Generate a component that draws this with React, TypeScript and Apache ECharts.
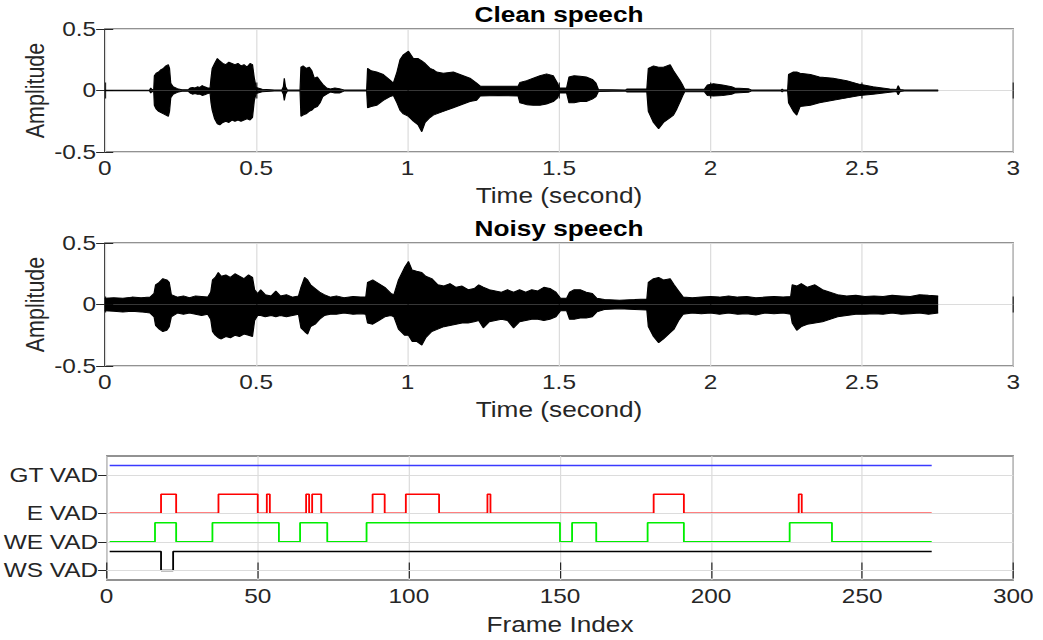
import React, { useEffect, useRef } from "react";
import * as echarts from "echarts";

// ---------------- DATA ----------------
// Clean speech envelope (time in s, upper / lower amplitude)
const cleanTime = [
  0, 0.148, 0.152, 0.156, 0.162, 0.164, 0.17, 0.178, 0.186, 0.194, 0.202, 0.21, 0.214, 0.218, 0.226, 0.24, 0.255, 0.275,
  0.282, 0.29, 0.298, 0.306, 0.314, 0.322, 0.33, 0.34, 0.348, 0.351, 0.355, 0.363, 0.372, 0.38, 0.39, 0.4, 0.41, 0.42,
  0.43, 0.44, 0.45, 0.46, 0.47, 0.48, 0.488, 0.494, 0.5, 0.52, 0.56, 0.585, 0.59, 0.593, 0.597, 0.603, 0.645, 0.648,
  0.655, 0.665, 0.675, 0.684, 0.692, 0.702, 0.711, 0.72, 0.733, 0.745, 0.76, 0.775, 0.79, 0.865, 0.868, 0.88, 0.898,
  0.92, 0.942, 0.953, 0.965, 0.975, 0.986, 1.003, 1.019, 1.035, 1.047, 1.058, 1.074, 1.085, 1.096, 1.118, 1.151, 1.173,
  1.195, 1.206, 1.228, 1.24, 1.3, 1.365, 1.371, 1.393, 1.415, 1.437, 1.459, 1.481, 1.495, 1.502, 1.525, 1.533, 1.55,
  1.57, 1.59, 1.61, 1.622, 1.63, 1.72, 1.725, 1.79, 1.795, 1.812, 1.829, 1.845, 1.867, 1.878, 1.889, 1.9, 1.909, 1.915,
  1.98, 1.99, 2.01, 2.04, 2.07, 2.08, 2.125, 2.135, 2.233, 2.237, 2.241, 2.255, 2.258, 2.274, 2.285, 2.296, 2.33, 2.36,
  2.405, 2.45, 2.493, 2.537, 2.592, 2.615, 2.62, 2.626, 2.64, 2.752,
];
const cleanUpper = [
  0.003, 0.003, 0.02, 0.008, 0.01, 0.12, 0.14, 0.15, 0.17, 0.18, 0.2, 0.21, 0.18, 0.06, 0.03, 0.015, 0.006, 0.006,
  0.02, 0.025, 0.02, 0.03, 0.025, 0.04, 0.03, 0.02, 0.02, 0.1, 0.18, 0.22, 0.26, 0.24, 0.22, 0.21, 0.23, 0.22,
  0.21, 0.22, 0.2, 0.21, 0.19, 0.22, 0.21, 0.1, 0.025, 0.01, 0.005, 0.005, 0.03, 0.1, 0.03, 0.005, 0.005, 0.19,
  0.2, 0.18, 0.19, 0.16, 0.1, 0.11, 0.08, 0.05, 0.02, 0.012, 0.02, 0.015, 0.005, 0.005, 0.18, 0.16, 0.15,
  0.13, 0.085, 0.06, 0.15, 0.25, 0.29, 0.32, 0.26, 0.26, 0.24, 0.22, 0.18, 0.17, 0.15, 0.14, 0.15, 0.13,
  0.11, 0.1, 0.06, 0.035, 0.035, 0.035, 0.066, 0.08, 0.1, 0.12, 0.135, 0.12, 0.06, 0.02, 0.02, 0.11, 0.12,
  0.115, 0.11, 0.09, 0.06, 0.008, 0.005, 0.012, 0.012, 0.18, 0.2, 0.19, 0.19, 0.21, 0.16, 0.12, 0.08, 0.04, 0.01,
  0.01, 0.045, 0.055, 0.045, 0.03, 0.02, 0.015, 0.004, 0.004, 0.012, 0.004, 0.004, 0.13, 0.15, 0.15, 0.14, 0.13, 0.11,
  0.1, 0.08, 0.05, 0.03, 0.012, 0.008, 0.04, 0.008, 0.004, 0.004,
];
const cleanLower = [
  -0.003, -0.003, -0.02, -0.008, -0.01, -0.12, -0.15, -0.17, -0.18, -0.19, -0.2, -0.21, -0.17, -0.06, -0.03, -0.015, -0.006, -0.006,
  -0.02, -0.03, -0.025, -0.03, -0.03, -0.04, -0.035, -0.025, -0.02, -0.1, -0.16, -0.23, -0.27, -0.28, -0.26, -0.25, -0.26, -0.24,
  -0.25, -0.24, -0.25, -0.24, -0.23, -0.24, -0.22, -0.08, -0.025, -0.01, -0.005, -0.005, -0.03, -0.08, -0.03, -0.005, -0.005, -0.21,
  -0.2, -0.19, -0.17, -0.16, -0.14, -0.13, -0.1, -0.05, -0.03, -0.012, -0.02, -0.02, -0.005, -0.005, -0.14, -0.13, -0.12,
  -0.08, -0.05, -0.04, -0.1, -0.16, -0.19, -0.21, -0.25, -0.28, -0.335, -0.26, -0.22, -0.2, -0.19, -0.17, -0.14, -0.12,
  -0.1, -0.09, -0.08, -0.045, -0.04, -0.045, -0.1, -0.115, -0.12, -0.12, -0.11, -0.09, -0.06, -0.02, -0.02, -0.1, -0.1,
  -0.09, -0.09, -0.07, -0.05, -0.008, -0.005, -0.012, -0.012, -0.17, -0.26, -0.31, -0.26, -0.22, -0.2, -0.15, -0.09, -0.04, -0.01,
  -0.01, -0.04, -0.045, -0.04, -0.03, -0.02, -0.015, -0.004, -0.004, -0.012, -0.004, -0.004, -0.1, -0.17, -0.2, -0.13, -0.12, -0.1,
  -0.08, -0.06, -0.04, -0.03, -0.015, -0.008, -0.035, -0.008, -0.004, -0.004,
];

// Noisy speech envelope
const noisyTime = [
  0, 0.03, 0.06, 0.09, 0.12, 0.15, 0.163, 0.168, 0.18, 0.192, 0.205, 0.213, 0.22, 0.24, 0.26, 0.28, 0.3, 0.32, 0.34,
  0.35, 0.356, 0.365, 0.375, 0.385, 0.4, 0.415, 0.43, 0.445, 0.46, 0.475, 0.488, 0.495, 0.505, 0.515, 0.53, 0.55,
  0.565, 0.58, 0.6, 0.62, 0.64, 0.648, 0.66, 0.67, 0.68, 0.695, 0.71, 0.725, 0.745, 0.765, 0.79, 0.82, 0.845, 0.862,
  0.868, 0.885, 0.905, 0.925, 0.945, 0.955, 0.97, 0.99, 1.003, 1.015, 1.03, 1.047, 1.06, 1.08, 1.1, 1.12, 1.14, 1.16,
  1.18, 1.2, 1.22, 1.235, 1.25, 1.27, 1.29, 1.31, 1.33, 1.35, 1.37, 1.39, 1.41, 1.43, 1.45, 1.47, 1.49, 1.505, 1.525,
  1.535, 1.55, 1.57, 1.59, 1.61, 1.625, 1.65, 1.7, 1.75, 1.79, 1.795, 1.812, 1.829, 1.845, 1.867, 1.88, 1.895, 1.91,
  1.94, 1.97, 2.0, 2.03, 2.06, 2.09, 2.12, 2.15, 2.18, 2.21, 2.24, 2.265, 2.27, 2.285, 2.3, 2.32, 2.345, 2.37, 2.395,
  2.42, 2.45, 2.48, 2.51, 2.54, 2.57, 2.6, 2.63, 2.66, 2.69, 2.72, 2.752,
];
const noisyUpper = [
  0.05, 0.055, 0.05, 0.06, 0.055, 0.06, 0.09, 0.16, 0.18, 0.21, 0.2, 0.18, 0.08, 0.06, 0.07, 0.055, 0.07, 0.065, 0.06,
  0.1, 0.2, 0.22, 0.26, 0.23, 0.24, 0.22, 0.25, 0.23, 0.21, 0.24, 0.22, 0.12, 0.09, 0.12, 0.08, 0.07,
  0.11, 0.07, 0.08, 0.06, 0.07, 0.14, 0.22, 0.2, 0.16, 0.13, 0.1, 0.08, 0.06, 0.07, 0.055, 0.065, 0.06, 0.06,
  0.18, 0.2, 0.17, 0.14, 0.09, 0.08, 0.2, 0.3, 0.35, 0.28, 0.27, 0.26, 0.23, 0.21, 0.16, 0.15, 0.17, 0.14,
  0.15, 0.12, 0.13, 0.16, 0.14, 0.12, 0.11, 0.1, 0.12, 0.1, 0.12, 0.1, 0.12, 0.11, 0.14, 0.13, 0.1, 0.05, 0.05,
  0.1, 0.12, 0.12, 0.1, 0.09, 0.05, 0.04, 0.035, 0.04, 0.045, 0.18, 0.21, 0.22, 0.2, 0.21, 0.16, 0.11, 0.06,
  0.055, 0.06, 0.065, 0.06, 0.07, 0.06, 0.065, 0.055, 0.06, 0.065, 0.06, 0.065, 0.16, 0.15, 0.17, 0.14, 0.16, 0.12, 0.1,
  0.08, 0.07, 0.075, 0.065, 0.07, 0.065, 0.075, 0.07, 0.065, 0.08, 0.075, 0.07,
];
const noisyLower = [
  -0.05, -0.055, -0.06, -0.055, -0.06, -0.07, -0.1, -0.17, -0.2, -0.22, -0.21, -0.18, -0.1, -0.07, -0.08, -0.07, -0.08, -0.09, -0.08,
  -0.12, -0.22, -0.25, -0.27, -0.28, -0.26, -0.27, -0.25, -0.26, -0.24, -0.25, -0.26, -0.13, -0.09, -0.09, -0.1, -0.09,
  -0.1, -0.09, -0.1, -0.09, -0.08, -0.19, -0.22, -0.24, -0.18, -0.16, -0.12, -0.09, -0.08, -0.08, -0.07, -0.08, -0.075, -0.08,
  -0.15, -0.16, -0.13, -0.1, -0.09, -0.1, -0.2, -0.25, -0.25, -0.3, -0.3, -0.33, -0.27, -0.22, -0.2, -0.18, -0.17, -0.16,
  -0.15, -0.15, -0.14, -0.13, -0.19, -0.14, -0.13, -0.12, -0.13, -0.19, -0.14, -0.13, -0.12, -0.12, -0.13, -0.12, -0.1, -0.05, -0.05,
  -0.12, -0.12, -0.11, -0.11, -0.1, -0.06, -0.04, -0.035, -0.04, -0.045, -0.18, -0.26, -0.31, -0.28, -0.23, -0.2, -0.13, -0.08,
  -0.07, -0.075, -0.07, -0.08, -0.07, -0.08, -0.075, -0.085, -0.07, -0.075, -0.07, -0.08, -0.15, -0.21, -0.18, -0.16, -0.15, -0.14, -0.12,
  -0.1, -0.09, -0.08, -0.08, -0.075, -0.08, -0.07, -0.08, -0.075, -0.07, -0.08, -0.07,
];

// VAD panel (frame indices)
const frameFirst = 1;
const frameLast = 273;
const gtVadSegments = [[1, 273]];
const eVadSegments = [[18, 23], [37, 50], [53, 54], [66, 67], [68, 71], [88, 92], [99, 110], [126, 127], [181, 191], [229, 230]];
const weVadSegments = [[16, 23], [35, 57], [64, 73], [86, 150], [154, 162], [179, 191], [226, 240]];
const wsVadZeroSegments = [[18, 22]];
const vadTickValues = [0, 1.5, 3, 5];
const vadTickLabels = ["WS VAD", "WE VAD", "E VAD", "GT VAD"];
const gtOffset = 4.5;
const eOffset = 3;
const weOffset = 1.5;
const wsOffset = 0;

// ---------------- LAYOUT ----------------
const SX = 1.22; // horizontal stretch of the whole figure
const W = 1043 / SX;
const H = 640;
const plotLeft = 104.7 / SX;
const plotWidth = 908.6 / SX;
const FONT = "'Liberation Sans', Arial, Helvetica, sans-serif";
const AX = "#262626";
const GRIDC = "#dcdcdc";

function stepPoints(segments: number[][], offset: number, base: number, active: number) {
  const pts: number[][] = [];
  const segs = segments.slice().sort((a, b) => a[0] - b[0]);
  let startVal = base;
  if (segs.length && segs[0][0] <= frameFirst) startVal = active;
  pts.push([frameFirst, offset + startVal]);
  for (const [a, b] of segs) {
    if (a > frameFirst) {
      pts.push([a, offset + base], [a, offset + active]);
    }
    if (b < frameLast) {
      pts.push([b, offset + active], [b, offset + base]);
    } else {
      pts.push([frameLast, offset + active]);
    }
  }
  if (pts[pts.length - 1][0] < frameLast) pts.push([frameLast, offset + base]);
  return pts;
}

function buildOption() {
  const grids = [
    { left: plotLeft, width: plotWidth, top: 29, height: 123 },
    { left: plotLeft, width: plotWidth, top: 243, height: 123 },
    { left: plotLeft, width: plotWidth, top: 456, height: 124 },
  ].map((g) => ({ ...g, show: true, borderColor: AX, borderWidth: 1, backgroundColor: "#fff" }));

  const labelStyle = { color: AX, fontFamily: FONT, fontSize: 20 };
  const nameStyle = { color: AX, fontFamily: FONT, fontSize: 21.5 };

  const xAxis: any[] = [];
  const yAxis: any[] = [];
  for (let p = 0; p < 3; p++) {
    const isVad = p === 2;
    const xr = isVad ? { min: 0, max: 300, interval: 50 } : { min: 0, max: 3, interval: 0.5 };
    xAxis.push({
      type: "value",
      gridIndex: p,
      position: "bottom",
      ...xr,
      name: isVad ? "Frame Index" : "Time (second)",
      nameLocation: "middle",
      nameGap: isVad ? 33 : 32,
      nameTextStyle: nameStyle,
      axisLine: { show: false },
      axisTick: { show: true, inside: true, length: 8, lineStyle: { color: AX } },
      axisLabel: { ...labelStyle, margin: 6 },
      splitLine: { show: true, lineStyle: { color: GRIDC, width: 1 } },
    });
    xAxis.push({
      type: "value",
      gridIndex: p,
      position: "top",
      ...xr,
      axisLine: { show: false },
      axisTick: { show: true, inside: true, length: 8, lineStyle: { color: AX } },
      axisLabel: { show: false },
      splitLine: { show: false },
    });
    if (!isVad) {
      const yr = { min: -0.5, max: 0.5, interval: 0.5 };
      yAxis.push({
        type: "value",
        gridIndex: p,
        position: "left",
        ...yr,
        name: "Amplitude",
        nameLocation: "middle",
        nameRotate: 90,
        nameGap: 46,
        nameMoveOverlap: false,
        nameTextStyle: nameStyle,
        axisLine: { show: false },
        axisTick: { show: true, inside: true, length: 7, lineStyle: { color: AX } },
        axisLabel: { ...labelStyle, margin: 7 },
        splitLine: { show: true, lineStyle: { color: GRIDC, width: 1 } },
      });
      yAxis.push({
        type: "value",
        gridIndex: p,
        position: "right",
        ...yr,
        axisLine: { show: false },
        axisTick: { show: true, inside: true, length: 7, lineStyle: { color: AX } },
        axisLabel: { show: false },
        splitLine: { show: false },
      });
    } else {
      const yr = { min: -0.5, max: 6 };
      yAxis.push({
        type: "value",
        gridIndex: p,
        position: "left",
        ...yr,
        axisLine: { show: false },
        axisTick: { show: true, inside: true, length: 7, lineStyle: { color: AX }, customValues: vadTickValues },
        axisLabel: {
          ...labelStyle,
          margin: 7,
          customValues: vadTickValues,
          formatter: (v: number) => {
            const i = vadTickValues.findIndex((t) => Math.abs(t - v) < 1e-6);
            return i >= 0 ? vadTickLabels[i] : "";
          },
        },
        splitLine: { show: false },
      });
      yAxis.push({
        type: "value",
        gridIndex: p,
        position: "right",
        ...yr,
        axisLine: { show: false },
        axisTick: { show: true, inside: true, length: 7, lineStyle: { color: AX }, customValues: vadTickValues },
        axisLabel: { show: false },
        splitLine: { show: false },
      });
    }
  }

  const wave = (t: number[], v: number[], idx: number) => ({
    type: "line",
    xAxisIndex: idx * 2,
    yAxisIndex: idx * 2,
    data: t.map((x, i) => [x, v[i]]),
    showSymbol: false,
    symbol: "none",
    silent: true,
    lineStyle: { color: "#000", width: 1 },
    areaStyle: { color: "#000", opacity: 1, origin: 0 },
    z: 3,
  });

  const vadLine = (pts: number[][], color: string) => ({
    type: "line",
    xAxisIndex: 4,
    yAxisIndex: 4,
    data: pts,
    showSymbol: false,
    symbol: "none",
    silent: true,
    lineStyle: { color, width: 1.5 },
    z: 3,
  });

  const series: any[] = [
    wave(cleanTime, cleanUpper, 0),
    wave(cleanTime, cleanLower, 0),
    wave(noisyTime, noisyUpper, 1),
    wave(noisyTime, noisyLower, 1),
    {
      type: "line",
      xAxisIndex: 4,
      yAxisIndex: 4,
      data: [],
      silent: true,
      z: 1,
      markLine: {
        silent: true,
        symbol: "none",
        label: { show: false },
        lineStyle: { color: GRIDC, width: 1, type: "solid" },
        data: vadTickValues.map((v) => ({ yAxis: v })),
      },
    },
    vadLine(stepPoints(gtVadSegments, gtOffset, 0, 1), "#3a3aff"),
    vadLine(stepPoints(eVadSegments, eOffset, 0, 1), "#ff0000"),
    vadLine(stepPoints(weVadSegments, weOffset, 0, 1), "#00ee00"),
    vadLine(stepPoints(wsVadZeroSegments, wsOffset, 1, 0), "#000000"),
  ];

  const cx = plotLeft + plotWidth / 2;
  const graphic = [
    {
      type: "text",
      x: cx,
      y: 14,
      style: { text: "Clean speech", fill: "#000", font: `bold 21.5px ${FONT}`, align: "center", verticalAlign: "middle" },
    },
    {
      type: "text",
      x: cx,
      y: 228,
      style: { text: "Noisy speech", fill: "#000", font: `bold 21.5px ${FONT}`, align: "center", verticalAlign: "middle" },
    },
  ];

  return { animation: false, backgroundColor: "#fff", grid: grids, xAxis, yAxis, series, graphic };
}

export default function App() {
  const ref = useRef<HTMLDivElement>(null);
  useEffect(() => {
    document.body.style.margin = "0";
    const chart = echarts.init(ref.current!, null, { renderer: "svg" });
    chart.setOption(buildOption() as any);
    return () => chart.dispose();
  }, []);
  return (
    <div
      ref={ref}
      style={{
        position: "fixed",
        left: 0,
        top: 0,
        width: W,
        height: H,
        transform: `scaleX(${SX})`,
        transformOrigin: "0 0",
        background: "#fff",
      }}
    />
  );
}
